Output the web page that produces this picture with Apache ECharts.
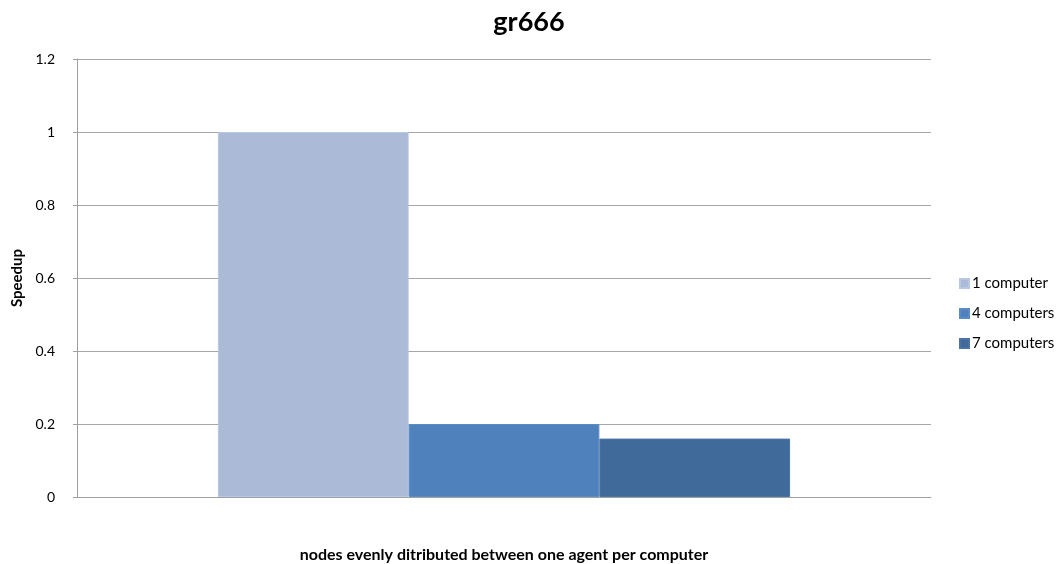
<!DOCTYPE html>
<html>
<head>
<meta charset="utf-8">
<script src="https://cdn.jsdelivr.net/npm/echarts@6/dist/echarts.min.js"></script>
<style>
  html, body { margin: 0; padding: 0; background: #ffffff; }
  #chart { width: 1062px; height: 564px; }
</style>
</head>
<body>
<div id="chart"></div>
<script>
// Speedup for gr666 by number of computers
const categories = [''];
const seriesNames = ['1 computer', '4 computers', '7 computers'];
const speedup1 = [1.0];
const speedup4 = [0.2];
const speedup7 = [0.16];
const yTicks = [0, 0.2, 0.4, 0.6, 0.8, 1, 1.2];

const colors = ['#AABAD7', '#4F81BD', '#3F6A9A'];
const borders = ['#B9C7E0', '#5C8CC6', '#4A74A3'];
const font = 'Lato, "Open Sans", sans-serif';

const chart = echarts.init(document.getElementById('chart'));
const values = [speedup1, speedup4, speedup7];

chart.setOption({
  animation: false,
  title: {
    text: 'gr666',
    left: 524,
    textAlign: 'center',
    top: 4,
    textStyle: { fontFamily: font, fontWeight: 'bold', fontSize: 27, color: '#000' }
  },
  legend: {
    orient: 'vertical',
    left: 954,
    top: 271,
    itemWidth: 9,
    itemHeight: 9,
    itemGap: 15,
    icon: 'rect',
    data: seriesNames,
    textStyle: { fontFamily: font, fontSize: 15, color: '#000', padding: [0, 0, 0, -2] }
  },
  grid: { left: 77, right: 131, top: 59, bottom: 67, outerBoundsMode: 'none' },
  xAxis: {
    type: 'category',
    data: categories,
    name: 'nodes evenly ditributed between one agent per computer',
    nameLocation: 'middle',
    nameGap: 50,
    nameTextStyle: { fontFamily: font, fontWeight: 'bold', fontSize: 16, color: '#000' },
    axisLine: { show: true, lineStyle: { color: '#A0A0A0', width: 1 } },
    axisTick: { show: false },
    axisLabel: { show: false }
  },
  yAxis: {
    type: 'value',
    min: 0,
    max: 1.2,
    interval: 0.2,
    name: 'Speedup',
    nameLocation: 'middle',
    nameGap: 52,
    nameRotate: 90,
    nameTextStyle: { fontFamily: font, fontWeight: 'bold', fontSize: 15, color: '#000' },
    axisLine: { show: true, lineStyle: { color: '#A0A0A0', width: 1 } },
    axisTick: { show: true, length: 4, lineStyle: { color: '#A0A0A0' } },
    splitLine: { show: true, lineStyle: { color: '#A6A6A6', width: 1 } },
    axisLabel: {
      fontFamily: font, fontSize: 14, color: '#000', margin: 22,
      formatter: function (v) {
        const t = yTicks.find(x => Math.abs(x - v) < 1e-9);
        return t === undefined ? '' : String(t);
      }
    }
  },
  series: seriesNames.map((name, i) => ({
    name: name,
    type: 'bar',
    data: values[i],
    barGap: '0%',
    barCategoryGap: '33%',
    itemStyle: { color: colors[i], borderColor: borders[i], borderWidth: 1 }
  }))
});
</script>
</body>
</html>
